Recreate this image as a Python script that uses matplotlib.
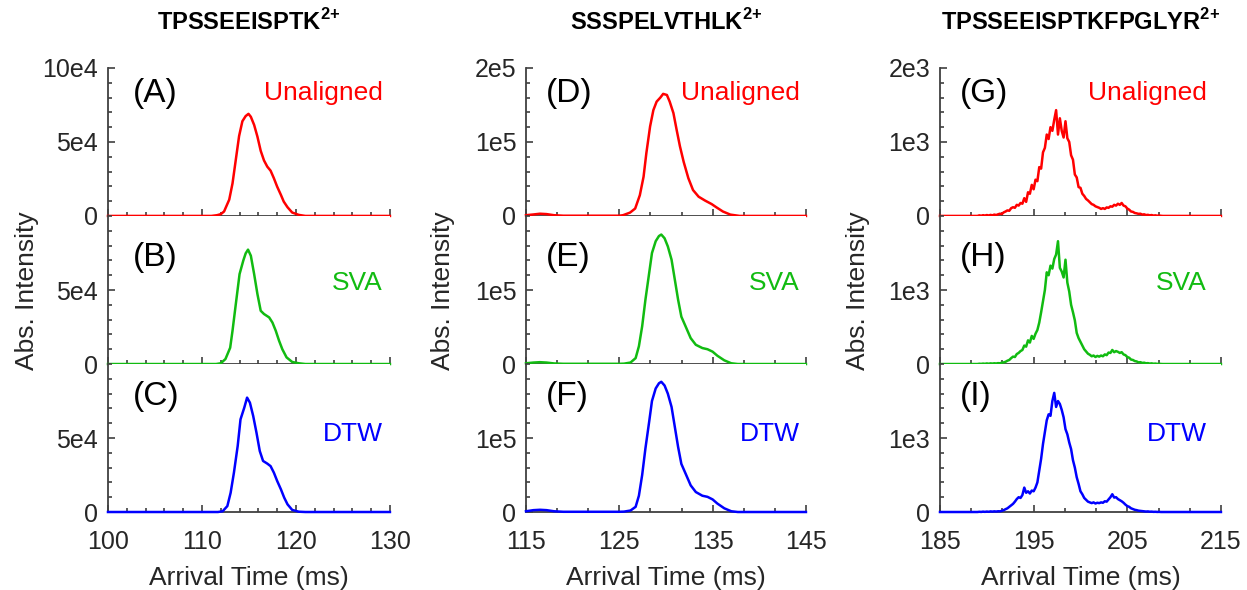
import numpy as np
import matplotlib
matplotlib.use("Agg")
import matplotlib.pyplot as plt
from matplotlib.ticker import FixedLocator

plt.rcParams["font.family"] = ["Liberation Sans", "DejaVu Sans"]
plt.rcParams["mathtext.fontset"] = "custom"
plt.rcParams["mathtext.rm"] = "Liberation Sans"
plt.rcParams["mathtext.bf"] = "Liberation Sans:bold"

# ---- TPSSEEISPTK 2+ (intensity in 1e3 counts) ----
tA = [100, 111.0, 111.6, 112.0, 112.35, 112.9, 113.25, 113.6, 113.95, 114.3, 114.65, 114.95, 115.2, 115.55,
      115.9, 116.25, 116.6, 116.95, 117.3, 117.65, 118.0, 118.4, 118.7, 119.1, 119.6, 120.3, 121.0, 130]
yA = [0, 0, 0.5, 1.2, 3, 11, 22, 38, 54, 64, 67.5, 69, 67, 61.5,
      53.6, 44, 37.5, 33.3, 30.6, 25.5, 19.8, 14.2, 9.7, 5.9, 2.3, 0.7, 0, 0]
tB = [100, 111.5, 112, 112.5, 113, 113.25, 113.6, 114, 114.4, 114.65, 114.9, 115.2, 115.55, 115.9,
      116.25, 116.6, 117.15, 117.5, 117.85, 118.2, 118.55, 119, 119.6, 120.3, 121, 130]
yB = [0, 0, 0.5, 3.4, 11, 22.5, 40.5, 60.8, 70, 74.8, 77.3, 73.2, 60.8, 47.3,
      36, 33.8, 31.5, 28, 22.5, 15.8, 10, 4.5, 1.4, 0.5, 0, 0]
tC = [100, 111.7, 112.2, 112.7, 113.05, 113.4, 113.8, 114.1, 114.5, 114.8, 115.1, 115.45, 115.8, 116.15,
      116.5, 116.95, 117.3, 117.65, 118, 118.4, 118.75, 119.1, 119.6, 120.3, 121, 130]
yC = [0, 0, 0.5, 4, 13, 26.6, 44.6, 62.6, 70.5, 77.3, 73.9, 64.9, 53.6, 41.2,
      34.5, 32.7, 31, 26.6, 21, 15.3, 9.7, 5.2, 1.4, 0.2, 0, 0]

# ---- SSSPELVTHLK 2+ (intensity in 1e3 counts) ----
tD = [115, 115.8, 116.5, 117.2, 118, 119, 125, 125.4, 126.15, 126.7, 127.2, 127.6, 127.9, 128.3, 128.65,
      129.0, 129.4, 129.7, 130.1, 130.4, 130.8, 131.15, 131.5, 131.9, 132.4, 132.9, 133.5, 134.2, 134.9,
      135.4, 136.1, 136.9, 137.9, 145]
yD = [1, 2, 3, 2.5, 1, 0.3, 0.3, 1, 4.5, 10, 28, 53, 85, 121, 143,
      154.5, 160, 165, 163.5, 154.5, 139, 116, 94, 73, 51, 35, 26, 20.7, 16,
      11.7, 6, 1.8, 0, 0]
tE = [115, 115.8, 116.5, 117.2, 118, 119, 125, 125.5, 126.2, 126.75, 127.1, 127.45, 127.8, 128.2, 128.5,
      128.9, 129.25, 129.5, 129.85, 130.2, 130.6, 130.95, 131.3, 131.65, 132.1, 132.65, 133.2, 133.9,
      134.45, 135, 135.5, 136.25, 137, 137.7, 145]
yE = [1, 2, 2.5, 2, 0.8, 0.3, 0.3, 0.5, 2, 8, 24, 51, 87, 123, 150,
      166, 173, 175, 170, 159, 141, 114, 87, 64, 51, 35, 26, 21.6,
      20, 16.7, 11.3, 5, 1, 0, 0]
tF = tE
yF = [1, 2.5, 3, 2.5, 1, 0.3, 0.3, 0.5, 2, 7, 22, 50, 86, 122, 150,
      167, 174, 176, 171, 160, 142, 115, 88, 65, 52, 36, 27, 22,
      20.5, 17, 11.5, 5, 1, 0, 0]

# ---- TPSSEEISPTKFPGLYR 2+ (raw counts, 0.2 ms bins from 189.0 to 208.8) ----
t_bins = np.round(np.linspace(189.0, 208.8, 100), 1)
yG = [0, 8, 3, 10, 5, 12, 6, 14, 8, 18, 12, 22, 30, 26, 48, 60, 75, 70, 105, 118,
      110, 150, 140, 175, 165, 240, 190, 320, 300, 420, 360, 490, 470, 660, 640, 860, 920, 1100, 1040, 1200,
      1150, 1300, 1430, 1100, 1320, 1150, 1060, 1280, 1050, 1000, 820, 760, 560, 520, 390, 380, 300, 270, 230, 210,
      185, 160, 150, 130, 120, 110, 95, 105, 95, 115, 110, 130, 125, 150, 140, 165, 150, 175, 140, 130,
      100, 85, 60, 55, 40, 35, 28, 30, 18, 22, 12, 15, 8, 12, 5, 8, 3, 6, 2, 0]
yH = [0, 4, 2, 6, 3, 8, 4, 9, 6, 10, 7, 12, 10, 18, 22, 30, 45, 55, 80, 100,
      95, 135, 150, 175, 190, 250, 235, 320, 290, 380, 340, 410, 460, 560, 700, 850, 1000, 1240, 1200, 1330,
      1290, 1420, 1480, 1660, 1300, 1250, 1170, 1410, 1100, 980, 800, 700, 590, 420, 350, 300, 250, 200, 170, 140,
      125, 105, 115, 95, 110, 100, 115, 105, 130, 120, 155, 150, 190, 160, 175, 165, 150, 160, 130, 120,
      95, 85, 60, 55, 40, 35, 22, 25, 15, 18, 10, 12, 6, 9, 4, 6, 2, 4, 1, 0]
yI = [0, 3, 1, 5, 2, 6, 3, 8, 5, 9, 6, 10, 9, 15, 25, 38, 50, 70, 90, 110,
      140, 175, 200, 190, 230, 330, 260, 280, 250, 290, 280, 330, 400, 560, 720, 920, 1080, 1240, 1320, 1300,
      1500, 1610, 1420, 1500, 1460, 1380, 1280, 1120, 1050, 940, 850, 700, 600, 470, 380, 280, 240, 190, 165, 140,
      130, 120, 130, 115, 125, 120, 130, 125, 145, 140, 170, 200, 240, 195, 200, 175, 160, 145, 125, 100,
      80, 70, 50, 40, 30, 25, 18, 15, 12, 9, 6, 8, 4, 5, 2, 3, 1, 2, 0, 0]

titles = [r"TPSSEEISPTK$^{\mathbf{2{+}}}$", r"SSSPELVTHLK$^{\mathbf{2{+}}}$",
          r"TPSSEEISPTKFPGLYR$^{\mathbf{2{+}}}$"]
panel_tags = [["(A)", "(B)", "(C)"], ["(D)", "(E)", "(F)"], ["(G)", "(H)", "(I)"]]
methods = ["Unaligned", "SVA", "DTW"]
colors = ["#ff0000", "#11bb11", "#0000ff"]

edge = [185.0]
tail = [215.0]
traces = [
    [(tA, yA), (tB, yB), (tC, yC)],
    [(tD, yD), (tE, yE), (tF, yF)],
    [(edge + list(t_bins) + tail, [0] + yG + [0]),
     (edge + list(t_bins) + tail, [0] + yH + [0]),
     (edge + list(t_bins) + tail, [0] + yI + [0])],
]
xlims = [(100, 130), (115, 145), (185, 215)]
xmajor = [[100, 110, 120, 130], [115, 125, 135, 145], [185, 195, 205, 215]]
xminor_n = [16, 10, 10]
ymax = [100, 200, 2000]
ytick_labels = [["0", "5e4", "10e4"], ["0", "1e5", "2e5"], ["0", "1e3", "2e3"]]

lefts = [0.0866, 0.4218, 0.7538]
widths = [0.2261, 0.2245, 0.2253]
bottoms = [0.634, 0.383, 0.1322]
height = 0.2508
ylabel_x = [0.022, 0.355, 0.688]
tag_x = [0.09, 0.07, 0.07]
name_x = [0.975, 0.979, 0.95]
tag_y = [0.83, 0.72, 0.78]
name_y = [0.83, 0.55, 0.53]

spine_col = "#404040"
txt_col = "#262626"

fig = plt.figure(figsize=(12.47, 5.9), dpi=100)

for c in range(3):
    for r in range(3):
        ax = fig.add_axes([lefts[c], bottoms[r], widths[c], height])
        t, y = traces[c][r]
        ax.plot(t, y, color=colors[r], lw=1.8, zorder=3, clip_on=False)
        ax.set_xlim(*xlims[c])
        ax.set_ylim(0, ymax[c])
        for s in ["top", "right"]:
            ax.spines[s].set_visible(False)
        for s in ["left", "bottom"]:
            ax.spines[s].set_color(spine_col)
            ax.spines[s].set_linewidth(1.3)

        ax.set_xticks(xmajor[c])
        ax.xaxis.set_minor_locator(FixedLocator(np.linspace(xlims[c][0], xlims[c][1], xminor_n[c])))
        if r == 2:
            ax.set_xticklabels([str(v) for v in xmajor[c]])
        else:
            ax.set_xticklabels([])

        yt = [0, ymax[c] / 2, ymax[c]]
        labs = ytick_labels[c]
        if r > 0:
            yt = yt[:2]
            labs = labs[:2]
        ax.set_yticks(yt)
        ax.set_yticklabels(labs)
        ax.yaxis.set_minor_locator(FixedLocator(np.linspace(0, ymax[c], 11)))

        ax.tick_params(which="both", direction="in", colors=spine_col, labelcolor=txt_col,
                       labelsize=18, width=1.2)
        ax.tick_params(which="major", length=5)
        ax.tick_params(which="minor", length=3)
        ax.tick_params(axis="y", which="major", pad=7)
        ax.tick_params(axis="x", which="major", pad=13)

        ax.text(tag_x[c], tag_y[r], panel_tags[c][r], transform=ax.transAxes,
                fontsize=24, ha="left", va="center", color="black")
        ax.text(name_x[c], name_y[r], methods[r], transform=ax.transAxes,
                fontsize=19, ha="right", va="center", color=colors[r])

    cx = lefts[c] + widths[c] / 2
    fig.text(cx, 0.962, titles[c], ha="center", va="center", fontsize=17, fontweight="bold")
    fig.text(cx, 0.021, "Arrival Time (ms)", ha="center", va="center", fontsize=19, color=txt_col)
    fig.text(ylabel_x[c], 0.508, "Abs. Intensity", ha="center", va="center", rotation=90,
             fontsize=19, color=txt_col)

fig.savefig("out.png", dpi=100)
